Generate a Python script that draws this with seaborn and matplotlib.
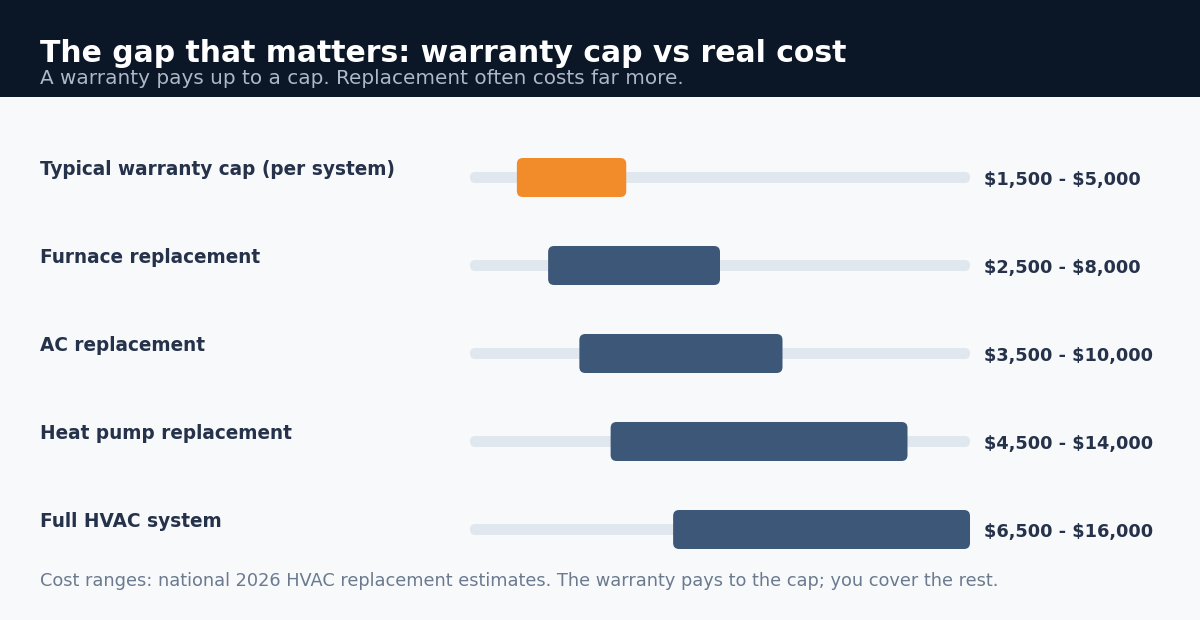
import matplotlib
matplotlib.use("Agg")
import matplotlib.pyplot as plt
from matplotlib.patches import FancyBboxPatch, Rectangle
import seaborn as sns
import pandas as pd

# ---- data ----
categories = [
    "Typical warranty cap (per system)",
    "Furnace replacement",
    "AC replacement",
    "Heat pump replacement",
    "Full HVAC system",
]
low_values = [1500, 2500, 3500, 4500, 6500]
high_values = [5000, 8000, 10000, 14000, 16000]
value_labels = [
    "$1,500 - $5,000",
    "$2,500 - $8,000",
    "$3,500 - $10,000",
    "$4,500 - $14,000",
    "$6,500 - $16,000",
]
axis_max = 16000

title = "The gap that matters: warranty cap vs real cost"
subtitle = "A warranty pays up to a cap. Replacement often costs far more."
footer = "Cost ranges: national 2026 HVAC replacement estimates. The warranty pays to the cap; you cover the rest."

# ---- style ----
BG = "#f7f9fb"
HEADER = "#0b1627"
TRACK = "#e1e7ef"
ORANGE = "#f28c2b"
NAVY = "#3c5778"
TEXT = "#25324a"
FOOT = "#6b7a8f"
SUB = "#aeb8c7"

sns.set_theme(style="white")
plt.rcParams["font.family"] = ["DejaVu Sans"]

W, H = 1200, 620
fig = plt.figure(figsize=(W / 100, H / 100), dpi=100, facecolor=BG)
renderer = fig.canvas.get_renderer()


def fit(t, target_px):
    """Scale a text's font size so that its rendered width matches target_px."""
    for _ in range(3):
        w = t.get_window_extent(renderer=renderer).width
        t.set_fontsize(t.get_fontsize() * target_px / w)


# header band
fig.patches.append(Rectangle((0, 1 - 97 / H), 1, 97 / H, transform=fig.transFigure,
                             facecolor=HEADER, edgecolor="none", zorder=0))
t = fig.text(40 / W, 1 - 62 / H, title, color="white", fontsize=23, fontweight="bold",
             va="baseline", ha="left", parse_math=False)
fit(t, 805)
t = fig.text(40 / W, 1 - 84 / H, subtitle, color=SUB, fontsize=12, va="baseline",
             ha="left", parse_math=False)
fit(t, 638)
t = fig.text(40 / W, 1 - 586 / H, footer, color=FOOT, fontsize=11, va="baseline",
             ha="left", parse_math=False)
fit(t, 957)

# axes: x 0..axis_max -> px 470..970 ; rows centred at 177.5 + 88*i
x0, x1 = 470, 970
top, bot = 133.5, 573.5
ax = fig.add_axes([x0 / W, 1 - bot / H, (x1 - x0) / W, (bot - top) / H])
ax.set_facecolor("none")

df = pd.DataFrame({"category": categories, "low": low_values, "high": high_values})
colors = [ORANGE] + [NAVY] * (len(categories) - 1)
sns.barplot(data=df, x="high", y="category", hue="category", palette=colors,
            orient="h", width=39 / 88, legend=False, ax=ax)
ax.set_xlim(0, axis_max)
ax.set_ylim(len(categories) - 0.5, -0.5)

px_x = axis_max / (x1 - x0)       # data units per px (x)
px_y = 1 / 88                     # data units per px (y)
aspect = px_y / px_x

bars = list(ax.patches)
for p, lo, hi, c in zip(bars, df["low"], df["high"], colors):
    yc = p.get_y() + p.get_height() / 2
    h = p.get_height()
    p.remove()
    th = 11 * px_y
    ax.add_patch(FancyBboxPatch((0, yc - th / 2), axis_max, th,
                                boxstyle=f"round,pad=0,rounding_size={5.5 * px_x}",
                                mutation_aspect=aspect, facecolor=TRACK,
                                edgecolor="none", zorder=1))
    ax.add_patch(FancyBboxPatch((lo, yc - h / 2), hi - lo, h,
                                boxstyle=f"round,pad=0,rounding_size={6 * px_x}",
                                mutation_aspect=aspect, facecolor=c,
                                edgecolor="none", zorder=2))

cat_texts, val_texts = [], []
for i, (cat, lab) in enumerate(zip(categories, value_labels)):
    val_texts.append(ax.text(axis_max + 14 * px_x, i + 7 * px_y, lab, color=TEXT,
                             fontsize=13, fontweight="bold", va="baseline", ha="left",
                             clip_on=False, parse_math=False))
    cat_texts.append(fig.text(40 / W, 1 - (177.5 + 88 * i - 2.5) / H, cat, color=TEXT,
                              fontsize=13, fontweight="bold", va="baseline", ha="left",
                              parse_math=False))

# uniform sizes, matched to the first label / value widths in the reference
fit(cat_texts[0], 357)
for tt in cat_texts[1:]:
    tt.set_fontsize(cat_texts[0].get_fontsize())
fit(val_texts[0], 157)
for tt in val_texts[1:]:
    tt.set_fontsize(val_texts[0].get_fontsize())

ax.set_axis_off()
fig.savefig("out.png", dpi=100, facecolor=BG)
